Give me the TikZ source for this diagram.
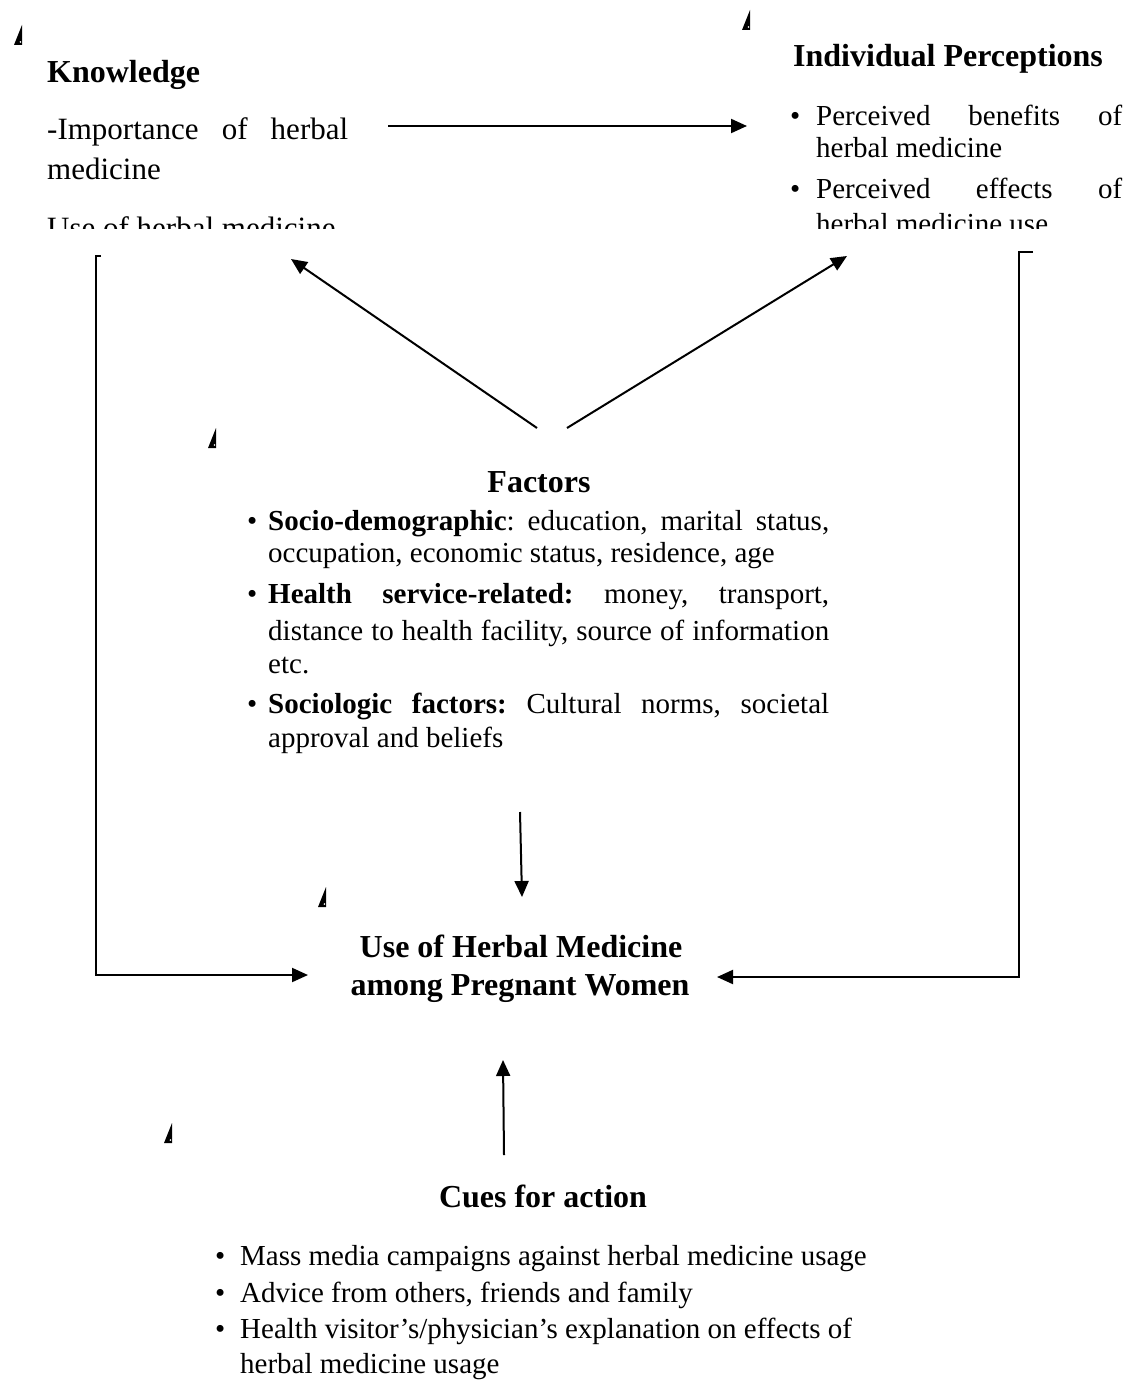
\documentclass[tikz,border=0pt]{standalone}
\usepackage{fontspec}
\setmainfont{Liberation Serif}
\usetikzlibrary{arrows.meta}
\frenchspacing
\tikzset{
  hd/.style={font=\bfseries\fontsize{32}{38}\selectfont, inner sep=0pt},
  bd/.style={font=\fontsize{29}{33}\selectfont\frenchspacing, inner sep=0pt, anchor=base west},
  kb/.style={font=\fontsize{31}{40}\selectfont, inner sep=0pt, anchor=base west},
  arr/.style={line width=2pt, -{Triangle[length=16pt,width=14pt]}},
  anchormark/.pic={\fill (-4,10) -- (4,-10) -- (4,10) -- cycle; \fill[white] (2.4,7) circle (0.9);}
}
\begin{document}
\begin{tikzpicture}[x=1pt,y=-1pt]
\useasboundingbox (0,0) rectangle (1139,1380);

% anchor marks
\pic at (18,35) {anchormark};
\pic at (746,20) {anchormark};
\pic at (212,438) {anchormark};
\pic at (322,897) {anchormark};
\pic at (168,1133) {anchormark};

% Knowledge
\node[hd, anchor=base west] (kh) at (47,83) {Knowledge};
\node[kb] (k1) at (47,140) {\makebox[301pt][s]{-Importance of herbal}};
\node[kb] (k2) at (47,180) {medicine};

% Individual perceptions
\node[hd, anchor=base west] (ph) at (793,67) {Individual Perceptions};
\node[bd] (pb1) at (790,126) {•};
\node[bd] (p1) at (816,126) {\makebox[306pt][s]{Perceived benefits of}};
\node[bd] (p2) at (816,158) {herbal medicine};
\node[bd] (pb2) at (790,199) {•};
\node[bd] (p3) at (816,199) {\makebox[306pt][s]{Perceived effects of}};

\begin{scope}
\clip (0,0) rectangle (1139,229);
\node[kb] (k3) at (47,239) {Use of herbal medicine};
\node[bd] (p4) at (816,234) {herbal medicine use};
\end{scope}

% Factors
\node[hd, anchor=base] (fh) at (539,492) {Factors};
\node[bd] (fb1) at (247,530) {•};
\node[bd] (f1) at (268,530) {\makebox[561pt][s]{\textbf{Socio-demographic}: education, marital status,}};
\node[bd] (f2) at (268,562) {occupation, economic status, residence, age};
\node[bd] (fb2) at (247,603) {•};
\node[bd] (f3) at (268,603) {\makebox[561pt][s]{\textbf{Health service-related:} money, transport,}};
\node[bd] (f4) at (268,640) {\makebox[561pt][s]{distance to health facility, source of information}};
\node[bd] (f5) at (268,673) {etc.};
\node[bd] (fb3) at (247,713) {•};
\node[bd] (f6) at (268,713) {\makebox[561pt][s]{\textbf{Sociologic factors:} Cultural norms, societal}};
\node[bd] (f7) at (268,747) {approval and beliefs};

% Use of herbal medicine
\node[hd, anchor=base] (u1) at (521,957) {Use of Herbal Medicine};
\node[hd, anchor=base] (u2) at (520,995) {among Pregnant Women};

% Cues for action
\node[hd, anchor=base] (ch) at (543,1207) {Cues for action};
\node[bd] (cb1) at (215,1265) {•};
\node[bd] (c1) at (240,1265) {Mass media campaigns against herbal medicine usage};
\node[bd] (cb2) at (215,1302) {•};
\node[bd] (c2) at (240,1302) {Advice from others, friends and family};
\node[bd] (cb3) at (215,1338) {•};
\node[bd] (c3) at (240,1338) {Health visitor’s/physician’s explanation on effects of};
\node[bd] (c4) at (240,1373) {herbal medicine usage};

% connector end points
\coordinate (kr) at (388,126);
\coordinate (pl) at (747,126);
\coordinate (fl) at (537,428);
\coordinate (fr) at (567,428);
\coordinate (kbot) at (291,259);
\coordinate (pbot) at (847,256);
\coordinate (fdown) at (520,812);
\coordinate (utop) at (522,897);
\coordinate (cup) at (504,1155);
\coordinate (ubot) at (503,1060);
\coordinate (lbt) at (101,256);
\coordinate (lbc) at (96,256);
\coordinate (lbb) at (96,975);
\coordinate (ul) at (308,975);
\coordinate (rbt) at (1033,252);
\coordinate (rbc) at (1019,252);
\coordinate (rbb) at (1019,977);
\coordinate (ur) at (717,977);

\draw[arr] (kr) -- (pl);
\draw[arr] (fl) -- (kbot);
\draw[arr] (fr) -- (pbot);
\draw[arr] (fdown) -- (utop);
\draw[arr] (cup) -- (ubot);
\draw[arr] (lbt) -- (lbc) -- (lbb) -- (ul);
\draw[arr] (rbt) -- (rbc) -- (rbb) -- (ur);
\end{tikzpicture}
\end{document}
